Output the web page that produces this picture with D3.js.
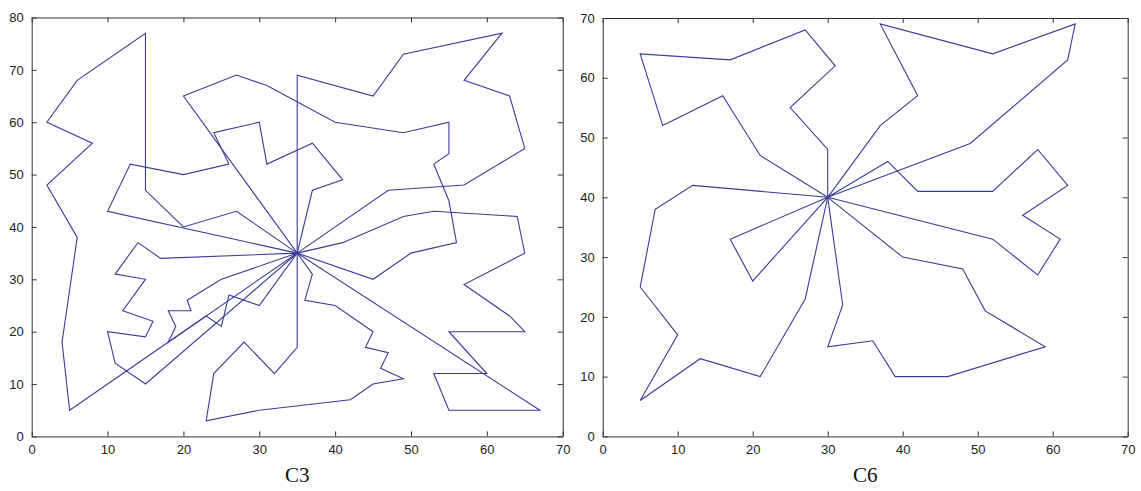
<!DOCTYPE html>
<html>
<head>
<meta charset="utf-8">
<script src="https://cdn.jsdelivr.net/npm/d3@7"></script>
<style>
  html, body { margin: 0; padding: 0; background: #fff; }
</style>
</head>
<body>
<script>
// Depot positions
const c3Depot = [35, 35];
const c6Depot = [30, 40];

// C3 routes: customer sequence of each vehicle (depot is added at both ends)
const c3Routes = [
  [[35,69],[45,65],[49,73],[62,77],[57,68],[63,65],[65,55],[57,48],[47,47]],
  [[37,47],[41,49],[37,56],[31,52],[30,60],[24,58],[26,52],[20,50],[13,52],[10,43]],
  [[45,30],[50,35],[56,37],[55,45],[53,52],[55,54],[55,60],[49,58],[40,60],[31,67],[27,69],[20,65]],
  [[37,31],[36,26],[40,25],[45,20],[44,17],[47,16],[46,13],[49,11],[45,10],[42,7],[30,5],[23,3],[24,12],[28,18],[32,12],[35,17]],
  [[67,5],[55,5],[53,12],[60,12],[55,20],[65,20],[63,23],[57,29],[65,35],[64,42],[53,43],[49,42],[41,37]],
  [[17,34],[14,37],[11,31],[15,30],[12,24],[16,22],[15,19],[10,20],[11,14],[15,10]],
  [[27,43],[20,40],[15,47],[15,77],[6,68],[2,60],[8,56],[2,48],[6,38],[4,18],[5,5],[23,23],[25,21],[26,27],[30,25]],
  [[25,30],[20.5,26],[21,24],[18,24],[19,21],[18,18]]
];

// C6 routes
const c6Routes = [
  [[30,48],[25,55],[31,62],[27,68],[17,63],[5,64],[8,52],[16,57],[21,47]],
  [[12,42],[7,38],[5,25],[10,17],[5,6],[13,13],[21,10],[27,23]],
  [[17,33],[20,26]],
  [[32,22],[30,15],[36,16],[39,10],[46,10],[59,15],[51,21],[48,28],[40,30]],
  [[52,33],[58,27],[61,33],[56,37],[62,42],[58,48],[52,41],[42,41],[38,46]],
  [[49,49],[62,63],[63,69],[52,64],[37,69],[42,57],[37,52]]
];

const xTicks = [0, 10, 20, 30, 40, 50, 60, 70];
const c3YTicks = [0, 10, 20, 30, 40, 50, 60, 70, 80];
const c6YTicks = [0, 10, 20, 30, 40, 50, 60, 70];

const W = 1141, H = 491;
const svg = d3.select("body").append("svg")
  .attr("width", W).attr("height", H)
  .style("font-family", "'Liberation Sans', Arial, sans-serif");

function drawPanel({routes, depot, yTicks, yMax, xr, yr, title}) {
  const x = d3.scaleLinear().domain([0, 70]).range(xr);
  const y = d3.scaleLinear().domain([0, yMax]).range(yr);
  const g = svg.append("g");

  // Routes
  const line = d3.line().x(d => x(d[0])).y(d => y(d[1]));
  for (const r of routes) {
    g.append("path")
      .attr("d", line([depot, ...r, depot]))
      .attr("fill", "none")
      .attr("stroke", "#3b3b98")
      .attr("stroke-width", 1.1)
      .attr("stroke-linejoin", "miter");
  }

  // Axes, MATLAB style: inward ticks on all four sides
  const style = a => {
    a.select(".domain").attr("stroke", "#333");
    a.selectAll(".tick line").attr("stroke", "#333");
    a.selectAll("text").attr("font-size", 13).attr("fill", "#222");
  };
  g.append("g").attr("transform", `translate(0,${yr[0]})`)
    .call(d3.axisBottom(x).tickValues(xTicks).tickSize(-5).tickPadding(8).tickSizeOuter(0))
    .call(style);
  g.append("g").attr("transform", `translate(0,${yr[1]})`)
    .call(d3.axisTop(x).tickValues(xTicks).tickSize(-5).tickFormat("").tickSizeOuter(0))
    .call(style);
  g.append("g").attr("transform", `translate(${xr[0]},0)`)
    .call(d3.axisLeft(y).tickValues(yTicks).tickSize(-5).tickPadding(8).tickSizeOuter(0))
    .call(style);
  g.append("g").attr("transform", `translate(${xr[1]},0)`)
    .call(d3.axisRight(y).tickValues(yTicks).tickSize(-5).tickFormat("").tickSizeOuter(0))
    .call(style);

  // Title under the plot
  g.append("text")
    .attr("x", (xr[0] + xr[1]) / 2).attr("y", 482)
    .attr("text-anchor", "middle")
    .attr("font-family", "'Liberation Serif', 'Times New Roman', serif")
    .attr("font-size", 21).attr("fill", "#111")
    .text(title);
}

drawPanel({routes: c3Routes, depot: c3Depot, yTicks: c3YTicks, yMax: 80,
  xr: [31.7, 562.7], yr: [436.4, 17.5], title: "C3"});
drawPanel({routes: c6Routes, depot: c6Depot, yTicks: c6YTicks, yMax: 70,
  xr: [602.7, 1127.7], yr: [436.4, 18], title: "C6"});
</script>
</body>
</html>
